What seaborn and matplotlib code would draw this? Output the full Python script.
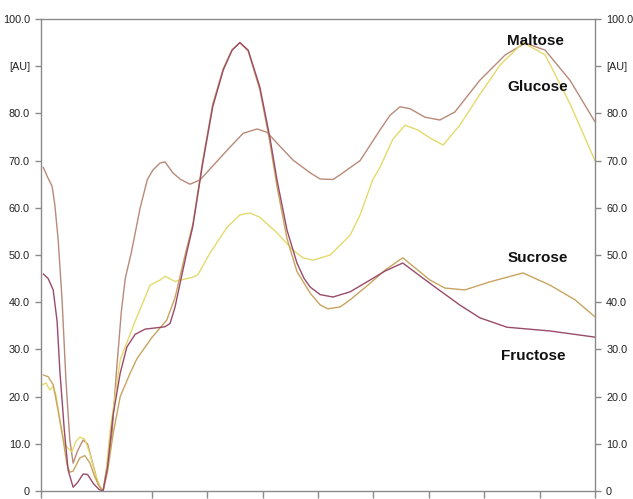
import matplotlib
matplotlib.use("Agg")
import matplotlib.pyplot as plt
import seaborn as sns
import pandas as pd

# Absorbance traces (arbitrary units) against position along the scan
fructose_x = [0.04, 0.13, 0.22, 0.29, 0.34, 0.42, 0.49, 0.58, 0.66, 0.76, 0.84, 0.95, 1.05, 1.12,
              1.20, 1.30, 1.43, 1.55, 1.70, 1.88, 2.10, 2.24, 2.33, 2.42, 2.51, 2.64, 2.74, 2.92,
              3.10, 3.29, 3.45, 3.59, 3.74, 3.95, 4.13, 4.26, 4.44, 4.62, 4.75, 4.86, 5.04, 5.27,
              5.58, 5.94, 6.21, 6.53, 7.02, 7.56, 7.92, 8.41, 9.19, 10.0]
fructose_y = [46.0, 45.0, 42.6, 36.0, 25.6, 13.0, 4.4, 0.8, 1.8, 3.6, 3.5, 1.5, 0.3, 0.0,
              5.0, 16.0, 25.0, 30.5, 33.2, 34.3, 34.6, 34.8, 35.5, 39.0, 44.0, 51.0, 56.0, 69.5,
              81.4, 89.2, 93.4, 95.0, 93.4, 85.6, 75.0, 65.9, 55.3, 48.3, 45.0, 43.2, 41.6, 41.1,
              42.2, 44.7, 46.6, 48.3, 44.0, 39.4, 36.7, 34.7, 33.9, 32.6]

sucrose_x = [0.04, 0.13, 0.22, 0.31, 0.40, 0.47, 0.52, 0.58, 0.70, 0.79, 0.88, 0.97, 1.06, 1.12,
             1.20, 1.30, 1.43, 1.61, 1.73, 2.00, 2.27, 2.42, 2.60, 2.74, 2.92, 3.10, 3.29, 3.45,
             3.59, 3.74, 3.95, 4.13, 4.26, 4.44, 4.62, 4.86, 5.04, 5.18, 5.40, 5.58, 5.94, 6.21,
             6.53, 7.02, 7.29, 7.65, 8.10, 8.70, 9.19, 9.64, 10.0]
sucrose_y = [24.6, 24.2, 22.5, 17.0, 10.8, 5.5, 4.0, 4.2, 7.0, 7.5, 6.0, 3.0, 0.8, 0.0,
             4.0, 12.0, 20.0, 25.0, 28.0, 32.5, 36.2, 41.0, 50.0, 56.5, 70.0, 82.0, 89.5, 93.5,
             95.0, 93.2, 85.0, 74.0, 64.5, 53.5, 46.5, 41.9, 39.4, 38.6, 39.0, 40.5, 44.0, 46.8,
             49.4, 44.7, 43.0, 42.6, 44.3, 46.2, 43.6, 40.5, 36.9]

glucose_x = [0.02, 0.09, 0.16, 0.22, 0.27, 0.34, 0.43, 0.56, 0.63, 0.70, 0.79, 0.88, 0.97, 1.06,
             1.12, 1.16, 1.25, 1.43, 1.70, 1.97, 2.15, 2.24, 2.42, 2.74, 2.83, 3.05, 3.36, 3.59,
             3.77, 3.95, 4.26, 4.55, 4.73, 4.91, 5.22, 5.58, 5.76, 5.99, 6.12, 6.35, 6.57, 6.80,
             7.02, 7.26, 7.56, 7.92, 8.29, 8.70, 9.10, 9.55, 10.0]
glucose_y = [22.5, 22.9, 21.4, 22.2, 20.3, 15.0, 9.7, 8.3, 10.5, 11.4, 11.0, 8.0, 4.0, 1.0,
             0.0, 2.3, 13.0, 27.8, 36.0, 43.6, 44.7, 45.5, 44.4, 45.3, 45.8, 50.4, 55.9, 58.5,
             58.9, 58.0, 54.7, 51.0, 49.4, 48.9, 50.0, 54.2, 58.5, 66.0, 68.6, 74.5, 77.5, 76.5,
             74.8, 73.3, 77.5, 84.0, 90.3, 95.0, 92.4, 82.0, 70.0]

maltose_x = [0.04, 0.11, 0.20, 0.25, 0.31, 0.38, 0.45, 0.52, 0.58, 0.66, 0.76, 0.84, 0.93, 1.03,
             1.12, 1.20, 1.28, 1.36, 1.45, 1.52, 1.63, 1.79, 1.92, 2.02, 2.15, 2.24, 2.38, 2.52,
             2.69, 2.87, 3.36, 3.65, 3.90, 4.08, 4.26, 4.55, 4.86, 5.04, 5.27, 5.40, 5.76, 6.12,
             6.30, 6.48, 6.66, 6.93, 7.20, 7.47, 7.92, 8.38, 8.74, 9.10, 9.55, 10.0]
maltose_y = [68.6, 66.7, 64.6, 60.6, 53.2, 40.5, 23.5, 10.8, 5.9, 8.5, 10.8, 10.0, 6.0, 1.5,
             0.0, 6.0, 12.0, 25.0, 38.0, 45.0, 50.5, 60.0, 66.0, 68.0, 69.5, 69.7, 67.4, 66.0,
             65.0, 65.9, 72.2, 75.8, 76.7, 76.0, 73.7, 70.1, 67.4, 66.1, 66.0, 67.0, 70.0, 76.5,
             79.6, 81.4, 81.0, 79.2, 78.6, 80.3, 87.0, 92.4, 94.9, 93.4, 87.0, 78.2]

sugars = ["Maltose", "Glucose", "Sucrose", "Fructose"]
palette = {"Maltose": "#b88a78", "Glucose": "#e4da6c", "Sucrose": "#c8a45e", "Fructose": "#9a4a6a"}

y_ticks = [0, 10, 20, 30, 40, 50, 60, 70, 80, 90, 100]
y_labels = ["0", "10.0", "20.0", "30.0", "40.0", "50.0", "60.0", "70.0", "80.0", "[AU]", "100.0"]
x_ticks = [0, 2, 3, 4, 5, 6, 7, 8, 9, 10]

frames = [
    pd.DataFrame({"pos": maltose_x, "val": maltose_y, "sugar": "Maltose"}),
    pd.DataFrame({"pos": glucose_x, "val": glucose_y, "sugar": "Glucose"}),
    pd.DataFrame({"pos": sucrose_x, "val": sucrose_y, "sugar": "Sucrose"}),
    pd.DataFrame({"pos": fructose_x, "val": fructose_y, "sugar": "Fructose"}),
]
df = pd.concat(frames, ignore_index=True)

sns.set_style("white")
plt.rcParams["font.family"] = ["Liberation Sans", "DejaVu Sans"]

fig = plt.figure(figsize=(6.33, 4.99), dpi=100)
ax = fig.add_axes([41 / 633, 1 - 491 / 499, 554 / 633, 472 / 499])

sns.lineplot(data=df, x="pos", y="val", hue="sugar", hue_order=sugars, palette=palette,
             linewidth=1.0, legend=False, ax=ax, sort=False, estimator=None)

ax.set_xlim(0, 10)
ax.set_ylim(0, 100)
ax.set_xlabel("")
ax.set_ylabel("")

axis_color = "#8a8a8a"
for side in ["left", "right", "top", "bottom"]:
    ax.spines[side].set_visible(True)
    ax.spines[side].set_color(axis_color)
    ax.spines[side].set_linewidth(1.0)

ax.set_xticks(x_ticks)
ax.set_xticklabels([])
ax.tick_params(axis="x", direction="out", length=5, width=1, color=axis_color, bottom=True)
ax.set_yticks(y_ticks)
ax.set_yticklabels(y_labels)
ax.tick_params(axis="y", direction="out", length=4, width=1, color=axis_color,
               left=True, right=True, labelleft=True, labelright=True,
               labelsize=7.8, labelcolor="#222222", pad=4)

label_pos = {"Maltose": (8.93, 95.3), "Glucose": (8.97, 85.6), "Sucrose": (8.97, 49.3), "Fructose": (8.88, 28.6)}
for name in sugars:
    lx, ly = label_pos[name]
    ax.text(lx, ly, name, ha="center", va="center", fontsize=11, fontweight="bold",
            color="#111111")

fig.savefig("out.png", dpi=100)
